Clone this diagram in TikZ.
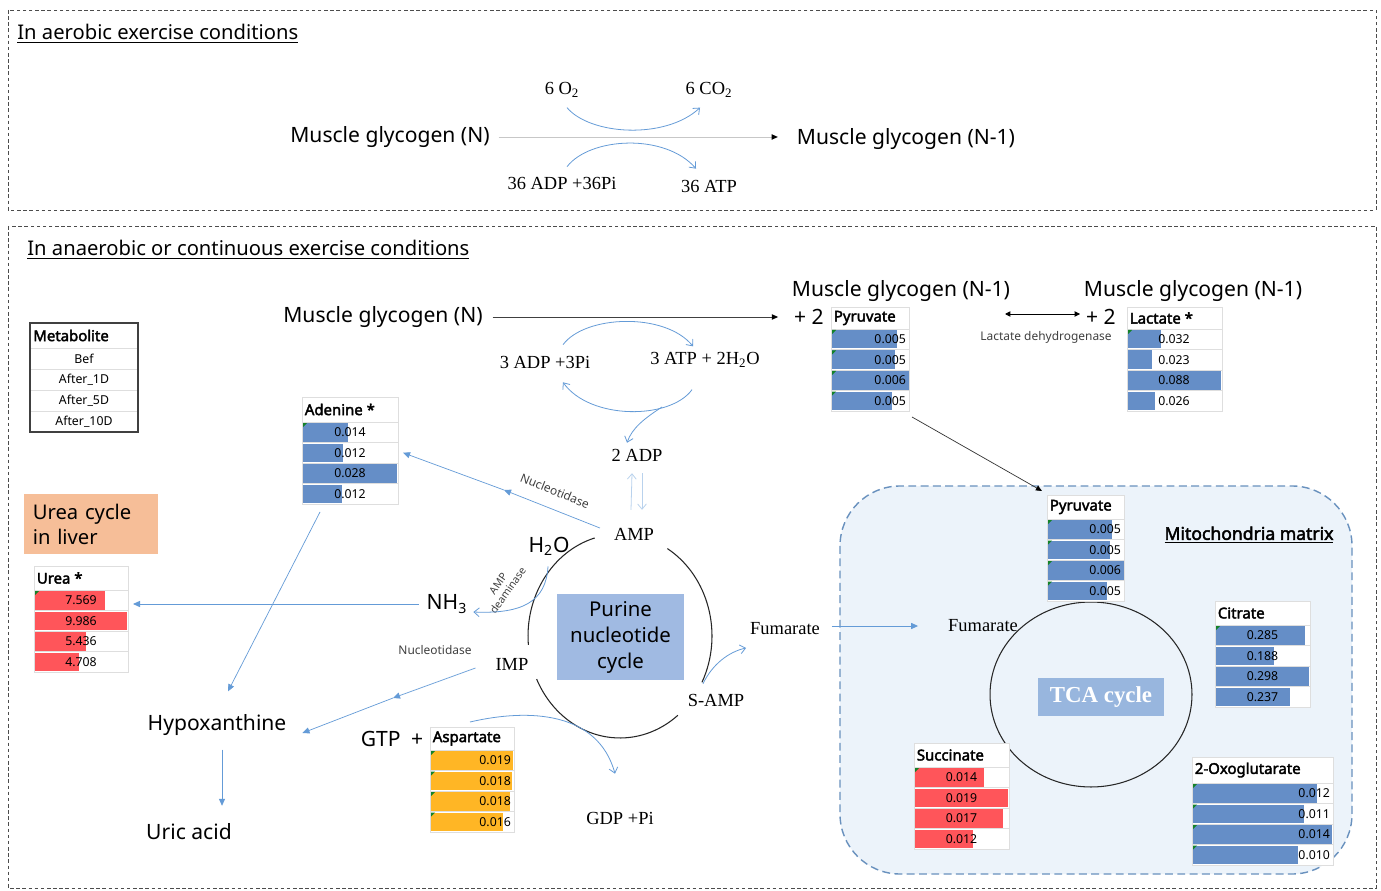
\documentclass[tikz,border=0pt]{standalone}
\usepackage{fontspec}
\setmainfont{Noto Sans}
\newfontfamily\timesfont{Liberation Serif}
\newfontfamily\boldsans{Noto Sans}[FakeBold=2.5]
\usetikzlibrary{arrows.meta}

\definecolor{barBlue}{RGB}{101,142,199}
\definecolor{barRed}{RGB}{255,85,90}
\definecolor{barOrange}{RGB}{255,182,37}
\definecolor{markGreen}{RGB}{20,130,40}
\definecolor{arrowBlue}{RGB}{100,155,215}
\definecolor{ureaOrange}{RGB}{246,190,152}
\definecolor{purineBlue}{RGB}{160,186,226}
\definecolor{tcaBlue}{RGB}{152,182,222}
\definecolor{mitoFill}{RGB}{236,243,250}
\definecolor{mitoLine}{RGB}{105,145,190}

\begin{document}
\begin{tikzpicture}
[x=0.02cm,y=-0.02cm,
  frameDecorate/.style={draw=black!70,line width=0.5pt,dash pattern=on 2pt off 1.5pt},%
  mitoDecorate/.style={draw=mitoLine,fill=mitoFill,line width=0.8pt,dash pattern=on 4.5pt off 2.5pt,rounded corners=1.2cm},%
  titleDecorate/.style={anchor=west,inner sep=0pt,font=\fontsize{11.5}{13}\selectfont},%
  sansDecorate/.style={inner sep=1pt,font=\fontsize{12}{14}\selectfont},%
  serifDecorate/.style={inner sep=1pt,font=\timesfont\fontsize{10.5}{12}\selectfont},%
  smallDecorate/.style={inner sep=0pt,text=black!75,font=\fontsize{6.8}{8}\selectfont},%
  cellDecorate/.style={draw=black!13,fill=white,line width=0.4pt,inner sep=0pt,outer sep=0pt,anchor=north west},%
  headDecorate/.style={anchor=west,inner sep=0pt,font=\boldsans\fontsize{8.5}{10}\selectfont},%
  valueDecorate/.style={inner sep=1pt,font=\fontsize{7}{8}\selectfont},%
  flowDecorate/.style={-{Triangle[length=3.5pt,width=3pt,color=black]},line width=0.5pt},%
  lineDecorate/.style={draw=arrowBlue,line width=0.5pt,-{Triangle[length=4pt,width=3.5pt]}},%
  curveDecorate/.style={draw=arrowBlue,line width=0.45pt,-{Straight Barb[length=3pt,width=5pt]}},%
  cycleDecorate/.style={draw=black!85,line width=0.6pt}]
\useasboundingbox (0,0) rectangle (1381,891);
\fill[white] (0,0) rectangle (1381,891);

%% aerobic panel
\draw[frameDecorate] (8,10) rectangle (1376,210);
\node[titleDecorate] (topTitle) at (17,34) {\underline{In aerobic exercise conditions}};
\node[sansDecorate] (topN) at (390,137) {Muscle glycogen (N)};
\node[sansDecorate] (topN1) at (906,139) {Muscle glycogen (N-1)};
\node[serifDecorate] (oxy) at (562,90) {6 O\textsubscript{2}};
\node[serifDecorate] (cox) at (709,90) {6 CO\textsubscript{2}};
\node[serifDecorate] (adp36) at (562,183) {36 ADP +36Pi};
\node[serifDecorate] (atp36) at (709,186) {36 ATP};
\draw[flowDecorate,draw=black!22,shorten <=0.14cm,shorten >=0.34cm] (topN.east) -- (topN.east -| topN1.west);
\draw[curveDecorate] ([shift={(5,8)}]oxy.south) .. controls (590,135) and (665,140) .. ([shift={(-9,8)}]cox.south);
\draw[curveDecorate] ([shift={(5,-8)}]adp36.north) .. controls (590,137) and (665,133) .. ([shift={(-13,-9)}]atp36.north);

%% anaerobic panel
\draw[frameDecorate] (8,226) rectangle (1376,888);
\node[titleDecorate] (botTitle) at (27,250) {\underline{In anaerobic or continuous exercise conditions}};
\draw[mitoDecorate] (840,486) rectangle (1352,874);
\node[inner sep=0pt,font=\boldsans\fontsize{10}{12}\selectfont] (mitoT) at (1249,535) {\underline{Mitochondria matrix}};

%% cycles
\foreach \a/\b in {106/185, 205/309, 333/419}
{
  \draw[cycleDecorate] (620,636) ++(\a:1.84cm and 2.04cm) arc[start angle=\a,end angle=\b,x radius=1.84cm,y radius=2.04cm];
}
\draw[cycleDecorate] (1091,694.5) ellipse [x radius=2.02cm,y radius=1.85cm];
\node[fill=purineBlue,minimum width=2.54cm,minimum height=1.72cm,align=center,font=\fontsize{11.6}{14.8}\selectfont] (purine) at (620.5,637) {Purine\\nucleotide\\cycle};
\node[fill=tcaBlue,text=white,minimum width=2.52cm,minimum height=0.76cm,font=\timesfont\bfseries\fontsize{13}{15}\selectfont] (tca) at (1101,697) {TCA cycle};
\node[anchor=north west,fill=ureaOrange,minimum width=2.68cm,minimum height=1.2cm,text width=2.34cm,inner xsep=0.17cm,align=left,font=\fontsize{11.5}{14.5}\selectfont] (ureaBox) at (24,494) {Urea cycle\\in liver};

%% legend
\node[cellDecorate,minimum width=2.16cm,minimum height=0.5cm] (legend) at (30,323) {};
\node[headDecorate] (legend-t) at ([xshift=0.06cm]legend.west) {Metabolite};
\foreach \lab [count=\i] in {Bef,After\_1D,After\_5D,After\_10D}
{
  \node[cellDecorate,minimum width=2.16cm,minimum height=0.42cm,font=\fontsize{7}{8}\selectfont] (legend-\i) at (30,327+\i*21) {\lab};
}
\draw[black!75,line width=0.6pt] (legend.north west) rectangle (legend-4.south east);

%% metabolite tables
\foreach \tname/\tx/\ty/\tw/\th/\tcol/\tanc/\toff/\nmark/\ttitle/\vals in {
  pyrA/831/307/78/22/barBlue/east/77/4/Pyruvate/{66/0.005,64/0.005,78/0.006,61/0.005},
  lacT/1127/307/95/22/barBlue/center/47/1/Lactate */{34/0.032,25/0.023,94/0.088,28/0.026},
  aden/302/397/96/25/barBlue/center/48/1/Adenine */{46/0.014,41/0.012,95/0.028,40/0.012},
  urea/34/566/94/24/barRed/center/47/1/Urea */{71/7.569,93/9.986,52/5.436,45/4.708},
  asp/430/727/84/23/barOrange/east/83/4/Aspartate/{83/0.019,82/0.018,80/0.018,73/0.016},
  pyrB/1047/495/77/24/barBlue/east/76/4/Pyruvate/{65/0.005,63/0.005,77/0.006,60/0.005},
  cit/1215/601/95/24/barBlue/center/47.5/1/Citrate/{90/0.285,59/0.188,94/0.298,75/0.237},
  succ/914/743/95/24/barRed/center/47.5/1/Succinate/{70/0.014,94/0.019,89/0.017,59/0.012},
  oxo/1192/757/141/26/barBlue/east/140/4/2-Oxoglutarate/{125/0.012,112/0.011,140/0.014,106/0.010}}
{
  \node[cellDecorate,minimum width=\tw*0.02cm,minimum height=\th*0.02cm] (\tname) at (\tx,\ty) {};
  \node[headDecorate] (\tname-t) at ([xshift=0.05cm]\tname.west) {\ttitle};
  \foreach \bw/\val [count=\i] in \vals
  {
    \pgfmathsetmacro{\ry}{\ty+\th+(\i-1)*20.5}
    \node[cellDecorate,minimum width=\tw*0.02cm,minimum height=0.41cm] (\tname-\i) at (\tx,\ry) {};
    \fill[\tcol] (\tx+1,\ry+1) rectangle (\tx+\bw,\ry+19.5);
    \ifnum\i>\nmark\else
      \fill[markGreen] (\tx+1,\ry+1) -- ++(4,0) -- ++(-4,4) -- cycle;
    \fi
    \node[valueDecorate,anchor=\tanc] (\tname-v\i) at (\tx+\toff,\ry+10.25) {\val};
  }
}

%% metabolites and labels
\node[sansDecorate] (botN) at (383,317) {Muscle glycogen (N)};
\node[sansDecorate] (n1A) at (901,291) {Muscle glycogen (N-1)};
\node[sansDecorate] (plusA) at (809,317) {+ 2};
\node[sansDecorate] (n1B) at (1193,291) {Muscle glycogen (N-1)};
\node[sansDecorate] (plusB) at (1101,317) {+ 2};
\node[smallDecorate] (ldh) at (1046,337) {Lactate dehydrogenase};
\node[serifDecorate] (adp3) at (545,362) {3 ADP +3Pi};
\node[serifDecorate] (atp3) at (705,360) {3 ATP + 2H\textsubscript{2}O};
\node[serifDecorate] (adp2) at (637,455) {2 ADP};
\node[serifDecorate] (amp) at (634,534) {AMP};
\node[serifDecorate] (imp) at (512,664) {IMP};
\node[serifDecorate] (samp) at (716,700) {S-AMP};
\node[serifDecorate] (fum) at (785,629) {Fumarate};
\node[serifDecorate] (gdp) at (620,818) {GDP +Pi};
\node[serifDecorate] (fumB) at (983,626) {Fumarate};
\node[sansDecorate] (h2o) at (549,546) {H\textsubscript{2}O};
\node[sansDecorate] (nh3) at (447,604) {NH\textsubscript{3}};
\node[sansDecorate] (hypox) at (217,725) {Hypoxanthine};
\node[sansDecorate] (uric) at (189,832) {Uric acid};
\node[sansDecorate] (gtp) at (392,739) {GTP\enspace+};
\node[smallDecorate,rotate=-22] (nucA) at (555,491) {Nucleotidase};
\node[smallDecorate] (nucB) at (435,650) {Nucleotidase};
\node[smallDecorate,rotate=55,align=center,font=\fontsize{6}{6.8}\selectfont] (deam) at (503,587) {AMP\\deaminase};

%% connectors
\coordinate (ldhL) at (1005,314);
\coordinate (ldhR) at (1080,314);
\coordinate (atpSplit) at (662,407);
\coordinate (nucMid) at (504,490);
\coordinate (impMid) at (393,698);
\draw[flowDecorate,draw=black!75,shorten <=0.16cm,shorten >=0.28cm] (botN.east) -- (botN.east -| plusA.west);
\draw[{Triangle[length=3pt,width=3pt]}-{Triangle[length=3pt,width=3pt]},line width=0.5pt] (ldhL) -- (ldhR);
\draw[curveDecorate] ([shift={(18,-9)}]adp3.north) .. controls (585,315) and (665,312) .. ([shift={(-12,-4)}]atp3.north);
\draw[curveDecorate] ([shift={(-13,20)}]atp3.south) .. controls (670,420) and (590,420) .. ([shift={(18,12)}]adp3.south);
\draw[curveDecorate] (atpSplit) .. controls (645,418) and (632,428) .. ([shift={(-10,-4)}]adp2.north);
\draw[curveDecorate,draw=arrowBlue!45] ([shift={(-3,-16)}]amp.north) -- ([shift={(-5,10)}]adp2.south);
\draw[curveDecorate,draw=arrowBlue!45] ([shift={(5,10)}]adp2.south) -- ([shift={(8,-16)}]amp.north);
\draw[lineDecorate,line width=0.4pt] ([shift={(-12,-6)}]amp.west) -- (nucMid);
\draw[lineDecorate,line width=0.4pt] (nucMid) -- ([xshift=0.1cm]aden-2.east);
\draw[lineDecorate,line width=0.4pt] ([shift={(18,8)}]aden-4.south west) -- ([shift={(11,-21)}]hypox.north);
\draw[curveDecorate] ([shift={(-1,9)}]h2o.south) .. controls (546,602) and (522,614) .. ([shift={(4,8)}]nh3.east);
\draw[lineDecorate] ([xshift=-0.12cm]nh3.west) -- ([xshift=0.1cm]nh3.west -| urea-1.east);
\draw[lineDecorate,line width=0.4pt] ([shift={(-18,4)}]imp.west) -- (impMid);
\draw[lineDecorate,line width=0.4pt] (impMid) -- ([shift={(14,8)}]hypox.east);
\draw[lineDecorate,line width=0.4pt] ([shift={(5,12)}]hypox.south) -- ([shift={(33,-16)}]uric.north);
\draw[curveDecorate] ([shift={(-2,-5)}]asp.north) .. controls (530,708) and (598,712) .. ([shift={(-5,-36)}]gdp.north);
\draw[curveDecorate] ([shift={(-13,-8)}]samp.north) .. controls (712,665) and (728,652) .. ([shift={(-2,19)}]fum.west);
\draw[lineDecorate] ([xshift=0.2cm]fum.east |- fumB.west) -- ([xshift=-0.56cm]fumB.west);
\draw[flowDecorate,draw=black!80,line width=0.4pt] ([shift={(3,6)}]pyrA-4.south east) -- ([shift={(-5,-4)}]pyrB.north west);
\end{tikzpicture}
\end{document}
